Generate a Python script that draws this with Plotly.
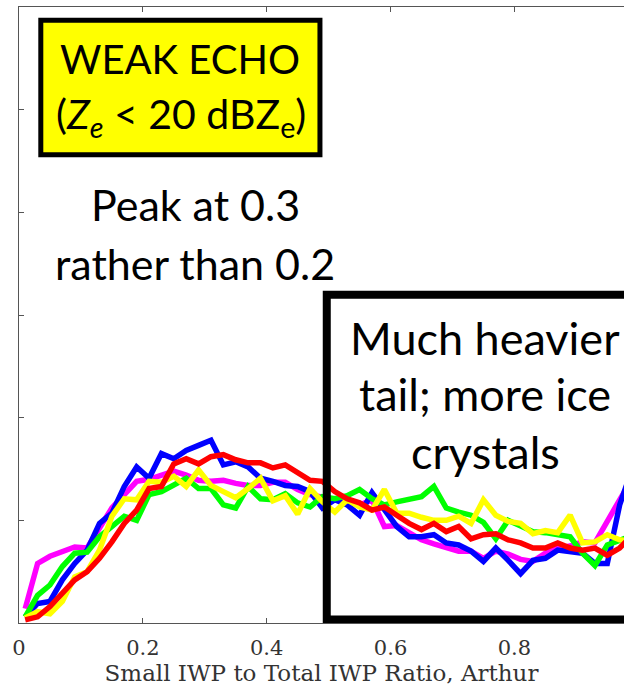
import plotly.graph_objects as go

# bin centres of the ratio histogram
ratio_bins = [round(0.01 + 0.02 * i, 2) for i in range(50)]

magenta_vals = [0.14, 0.58, 0.65, 0.69, 0.74, 0.73, 0.92, 1.12, 1.25, 1.38,
                1.40, 1.44, 1.48, 1.44, 1.39, 1.38, 1.39, 1.36, 1.34, 1.34,
                1.37, 1.37, 1.30, 1.25, 1.22, 1.20, 1.18, 1.15, 1.20, 0.94,
                0.95, 0.88, 0.81, 0.77, 0.73, 0.70, 0.70, 0.63, 0.70, 0.67,
                0.62, 0.60, 0.68, 0.73, 0.75, 0.79, 0.78, 1.00, 1.20, 1.40]
blue_vals = [0.06, 0.19, 0.21, 0.42, 0.58, 0.71, 0.97, 1.07, 1.33, 1.52,
             1.41, 1.65, 1.60, 1.68, 1.73, 1.78, 1.54, 1.57, 1.52, 1.41,
             1.38, 1.34, 1.33, 1.28, 1.12, 1.20, 1.15, 1.05, 1.27, 1.10,
             0.94, 0.84, 0.84, 0.86, 0.78, 0.76, 0.70, 0.60, 0.73, 0.61,
             0.48, 0.61, 0.63, 0.71, 0.70, 0.68, 0.58, 0.58, 1.15, 1.50]
green_vals = [0.06, 0.27, 0.37, 0.55, 0.68, 0.69, 0.84, 0.94, 1.04, 1.00,
              1.25, 1.28, 1.35, 1.41, 1.31, 1.31, 1.15, 1.12, 1.33, 1.21,
              1.20, 1.26, 1.17, 1.13, 1.23, 1.21, 1.24, 1.30, 1.21, 1.15,
              1.18, 1.21, 1.23, 1.33, 1.12, 1.08, 1.05, 0.98, 0.82, 1.00,
              0.95, 0.89, 0.88, 0.86, 0.84, 0.68, 0.56, 0.76, 0.80, 0.85]
yellow_vals = [0.05, 0.11, 0.09, 0.21, 0.45, 0.50, 0.71, 1.04, 1.21, 1.20,
               1.38, 1.37, 1.43, 1.33, 1.49, 1.34, 1.28, 1.22, 1.31, 1.41,
               1.19, 1.24, 1.06, 1.31, 1.18, 1.08, 1.20, 1.13, 1.10, 1.30,
               1.07, 1.07, 1.03, 1.00, 1.00, 1.04, 0.97, 1.20, 1.05, 0.99,
               0.97, 0.87, 0.90, 0.88, 1.05, 0.78, 0.79, 0.86, 0.81, 0.80]
red_vals = [0.03, 0.06, 0.16, 0.29, 0.42, 0.50, 0.63, 0.79, 0.97, 1.10,
            1.31, 1.33, 1.55, 1.60, 1.55, 1.62, 1.64, 1.59, 1.56, 1.56,
            1.51, 1.54, 1.47, 1.39, 1.38, 1.28, 1.21, 1.17, 1.10, 1.13,
            1.05, 0.97, 0.91, 0.97, 0.89, 0.94, 0.82, 0.86, 0.87, 0.81,
            0.78, 0.73, 0.73, 0.78, 0.73, 0.71, 0.73, 0.66, 0.73, 0.85]

series = [
    ("magenta", magenta_vals, "#FF00FF"),
    ("blue", blue_vals, "#0000FF"),
    ("green", green_vals, "#00FF00"),
    ("yellow", yellow_vals, "#FFFF00"),
    ("red", red_vals, "#FF0000"),
]

x_tick_vals = [0, 0.2, 0.4, 0.6, 0.8]
x_tick_text = ["0", "0.2", "0.4", "0.6", "0.8"]
y_tick_vals = [0, 1, 2, 3, 4, 5, 6]

fig = go.Figure()
for name, vals, col in series:
    fig.add_trace(go.Scatter(x=ratio_bins, y=vals, mode="lines", name=name,
                             line=dict(color=col, width=5.5),
                             showlegend=False, hoverinfo="skip"))

axis_col = "#555555"
fig.update_layout(
    width=624, height=689,
    margin=dict(l=19, r=0, t=7, b=66),
    paper_bgcolor="white", plot_bgcolor="white",
    xaxis=dict(range=[0, 0.977], tickvals=x_tick_vals, ticktext=x_tick_text,
               ticks="inside", ticklen=5, tickcolor=axis_col, showgrid=False,
               zeroline=False, showline=True, linecolor=axis_col, linewidth=1,
               mirror="ticks", ticklabelstandoff=6,
               tickfont=dict(family="DejaVu Serif", size=21, color="#333333"),
               title=dict(text="Small IWP to Total IWP Ratio, Arthur",
                          font=dict(family="DejaVu Serif", size=23, color="#333333"),
                          standoff=3)),
    yaxis=dict(range=[0, 6], tickvals=y_tick_vals, ticks="inside", ticklen=5,
               tickcolor=axis_col, showticklabels=False, showgrid=False,
               zeroline=False, showline=True, linecolor=axis_col, linewidth=1),
)

# yellow title box
fig.add_shape(type="rect", xref="x", yref="y", x0=0.0352, x1=0.486, y0=4.56, y1=5.87,
              fillcolor="#FFFF00", line=dict(color="black", width=5), layer="above")
# black tail box
fig.add_shape(type="rect", xref="x", yref="y", x0=0.497, x1=1.2, y0=0.034, y1=3.197,
              fillcolor="rgba(0,0,0,0)", line=dict(color="black", width=8), layer="above")

def ann(text, x, y, size):
    fig.add_annotation(text=text, x=x, y=y, xref="x", yref="y", showarrow=False,
                       xanchor="center", yanchor="middle",
                       font=dict(family="Lato", size=size, color="black"))

ann("WEAK ECHO", 0.260, 5.49, 40)
ann("(<i>Z<sub>e</sub></i> &lt; 20 dBZ<sub>e</sub>)", 0.262, 4.93, 41)
ann("Peak at 0.3", 0.285, 4.08, 43)
ann("rather than 0.2", 0.285, 3.50, 43)
ann("Much heavier", 0.753, 2.78, 45)
ann("tail; more ice", 0.753, 2.23, 45)
ann("crystals", 0.753, 1.67, 45)

fig.write_html("out.html")
